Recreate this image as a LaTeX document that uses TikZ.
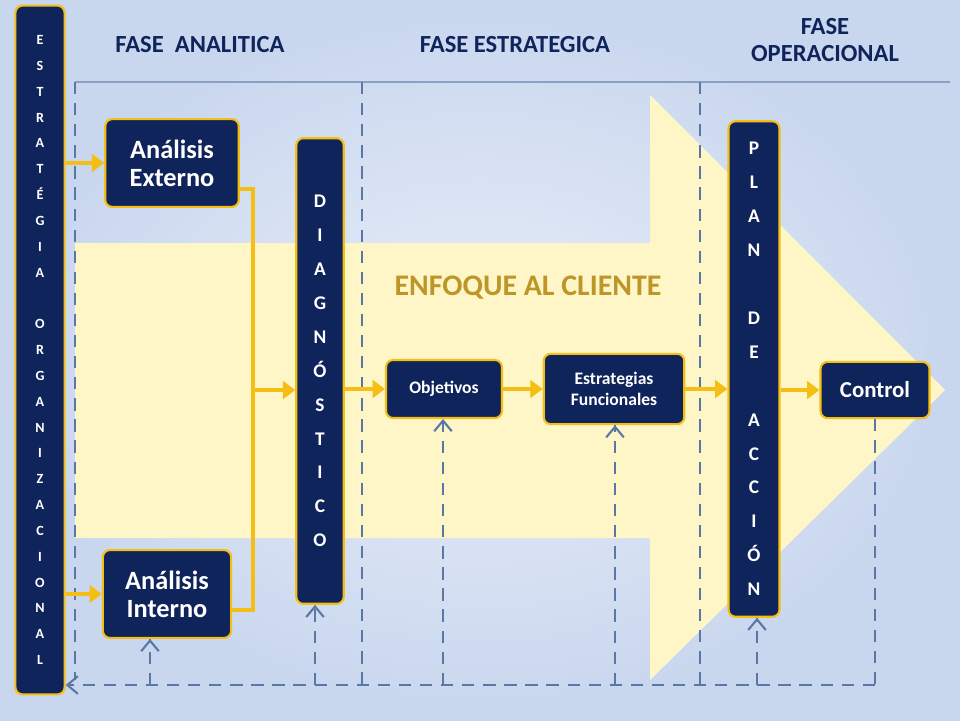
\documentclass[tikz,border=0pt]{standalone}
\usepackage{fontspec}
\setmainfont{Carlito}
\usepackage{xcolor}
\definecolor{navybox}{RGB}{16,36,92}
\definecolor{goldline}{RGB}{245,190,20}
\definecolor{paleyellow}{RGB}{255,246,200}
\definecolor{skyback}{RGB}{200,214,238}
\definecolor{dashblue}{RGB}{90,120,165}
\definecolor{olivetext}{RGB}{190,150,40}
\usetikzlibrary{arrows.meta}

\tikzset{
  box/.style={draw=goldline, line width=1.2pt, fill=navybox, rounded corners=4pt,
    text=white, font=\bfseries, align=center, inner sep=0pt},
  bar/.style={box, font=\bfseries\fontsize{11}{19.3}\selectfont},
  flow/.style={goldline, line width=2.2pt, -{Triangle[length=7pt,width=10pt]}},
  back/.style={dashblue, dashed, line width=1.2pt, dash pattern=on 7pt off 5pt},
  phase/.style={font=\bfseries\fontsize{14}{15}\selectfont, text=navybox, align=center}
}

\begin{document}
\begin{tikzpicture}[x=0.02cm, y=-0.02cm]
\useasboundingbox (0,0) rectangle (960,720);
\shade[inner color=skyback!40, outer color=skyback] (0,0) rectangle (960,720);

% flecha de fondo
\fill[paleyellow] (75,243) -- (650,243) -- (650,95) -- (945,390) -- (650,680)
  -- (650,538) -- (75,538) -- cycle;
\node[font=\bfseries\fontsize{17}{18}\selectfont, text=olivetext] (enfoque) at (528,288) {ENFOQUE AL CLIENTE};

% fases
\node[phase] (fanalitica) at (200,45) {FASE\ \ ANALITICA};
\node[phase] (festrategica) at (515,45) {FASE ESTRATEGICA};
\node[phase] (foperacional) at (825,40) {FASE\\OPERACIONAL};
\draw[dashblue!70, line width=0.8pt] (75,82) -- (950,82);
\draw[back] (75,82) -- (75,680);
\draw[back] (362,82) -- (362,685);
\draw[back] (700,82) -- (700,685);

% nodos
\node[box, minimum width=50\pgflinewidth, font=\bfseries\fontsize{8}{14.7}\selectfont,
  minimum width=28pt, minimum height=392pt] (organizacion) at (40,350)
  {E\\S\\T\\R\\A\\T\\É\\G\\I\\A\\[14.7pt]O\\R\\G\\A\\N\\I\\Z\\A\\C\\I\\O\\N\\A\\L};
\node[box, font=\bfseries\fontsize{15}{16}\selectfont, minimum width=76pt, minimum height=50pt] (externo) at (172,163) {Análisis\\Externo};
\node[box, font=\bfseries\fontsize{15}{16}\selectfont, minimum width=73pt, minimum height=50pt] (interno) at (167,594) {Análisis\\Interno};
\node[bar, minimum width=27pt, minimum height=265pt] (diagnostico) at (320,371)
  {D\\I\\A\\G\\N\\Ó\\S\\T\\I\\C\\O};
\node[box, font=\bfseries\fontsize{10}{11}\selectfont, minimum width=66pt, minimum height=33pt] (objetivos) at (444,389) {Objetivos};
\node[box, font=\bfseries\fontsize{10}{12}\selectfont, minimum width=80pt, minimum height=40pt] (estrategias) at (614,389) {Estrategias\\Funcionales};
\node[bar, minimum width=29pt, minimum height=282pt] (plan) at (754,369)
  {P\\L\\A\\N\\[19.3pt]D\\E\\[19.3pt]A\\C\\C\\I\\Ó\\N};
\node[box, font=\bfseries\fontsize{13}{14}\selectfont, minimum width=62pt, minimum height=32pt] (control) at (875,390) {Control};

% flujo principal
\coordinate (union) at (253,390);
\draw[flow] (organizacion.east |- externo) -- (externo.west);
\draw[flow] (organizacion.east |- interno) -- (interno.west);
\draw[goldline, line width=2.2pt] ([yshift=-15pt]externo.east) -| (253,610) -- (interno.east |- 0,610);
\draw[flow] (union) -- (diagnostico.west |- union);
\draw[flow] (diagnostico.east |- objetivos) -- (objetivos.west);
\draw[flow] (objetivos) -- (estrategias);
\draw[flow] (estrategias) -- (plan.west |- estrategias);
\draw[flow] (plan.east |- control) -- (control);

% retroalimentacion
\coordinate (retorno) at (875,685);
\draw[back] (control.south) -- (retorno);
\draw[back, -{Straight Barb[length=6pt,width=10pt]}] (retorno) -- (organizacion.east |- retorno);
\foreach \dest/\xx in {interno/150, diagnostico/315, objetivos/443, estrategias/615, plan/757}
  \draw[back, -{Straight Barb[length=6pt,width=10pt]}] (\xx,685) -- (\xx,0 |- \dest.south) ++(0,0);
\end{tikzpicture}
\end{document}
